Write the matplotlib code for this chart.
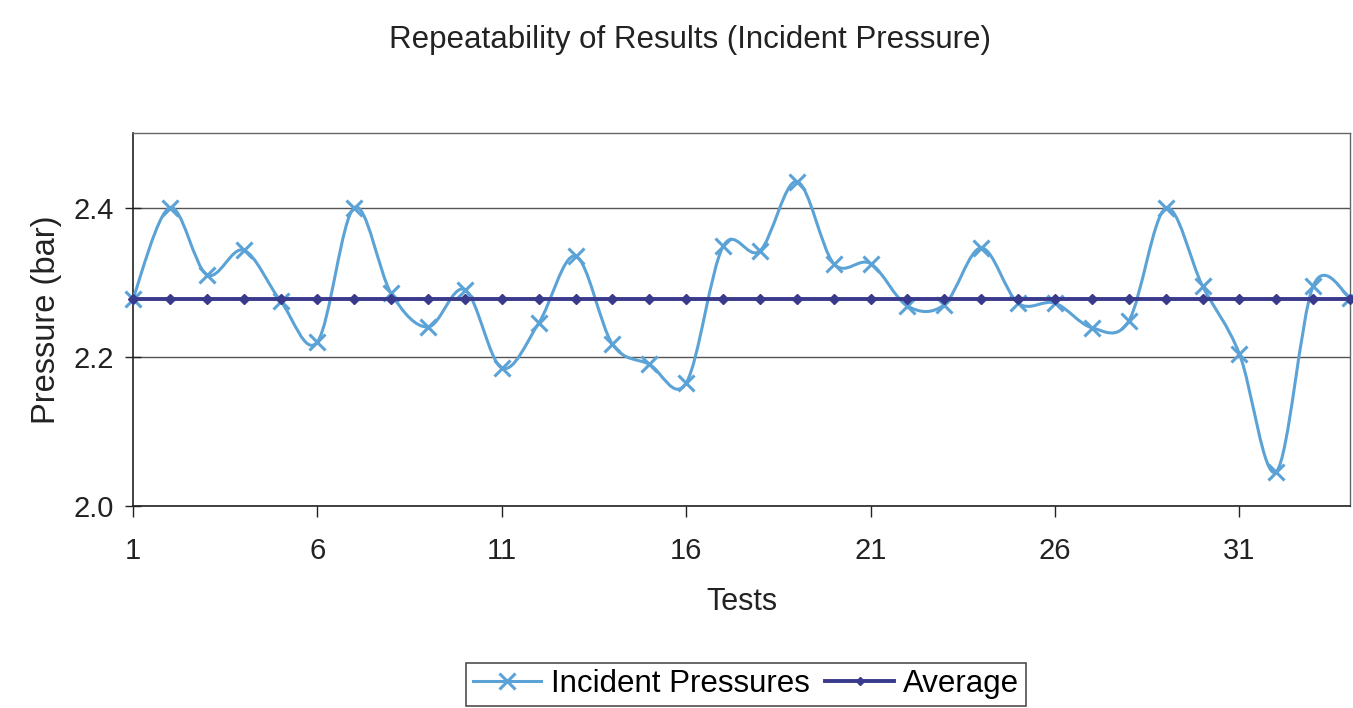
"""
plot.py - repeatability of incident pressure readings across the test series.
"""

import numpy as np
import matplotlib.pyplot as plt
from matplotlib.path import Path
from matplotlib.patches import PathPatch
from matplotlib.lines import Line2D

plt.rcParams["font.family"] = ["Liberation Sans", "DejaVu Sans"]

# ── Data ──────────────────────────────────────────────────────
tests = list(range(1, 35))
incident = [2.278, 2.400, 2.310, 2.343, 2.275, 2.220, 2.400, 2.285, 2.240, 2.290,
            2.185, 2.245, 2.335, 2.217, 2.190, 2.165, 2.348, 2.342, 2.435, 2.325,
            2.325, 2.268, 2.270, 2.346, 2.272, 2.272, 2.239, 2.248, 2.399, 2.295,
            2.204, 2.046, 2.295, 2.279]
average = [2.278] * 34
x_ticks = [1, 6, 11, 16, 21, 26, 31]
y_ticks = [2.0, 2.2, 2.4]

INCIDENT_COLOR = "#5ba3d6"
AVERAGE_COLOR = "#3a3a8c"


def smooth_path(xs, ys):
    """Cubic Bezier path through the points (spreadsheet-style smoothed line)."""
    pts = np.column_stack([xs, ys]).astype(float)
    n = len(pts)
    verts = [pts[0]]
    codes = [Path.MOVETO]
    for i in range(n - 1):
        p_prev = pts[max(i - 1, 0)]
        p0, p1 = pts[i], pts[i + 1]
        p_next = pts[min(i + 2, n - 1)]
        c1 = p0 + (p1 - p_prev) / 6.0
        c2 = p1 - (p_next - p0) / 6.0
        verts += [c1, c2, p1]
        codes += [Path.CURVE4] * 3
    return Path(verts, codes)


fig = plt.figure(figsize=(13.53, 7.08), dpi=100)
ax = fig.add_axes([0.0983, 0.2853, 0.8995, 0.5268])

# ── Series ────────────────────────────────────────────────────
ax.add_patch(PathPatch(smooth_path(tests, incident), facecolor="none",
                       edgecolor=INCIDENT_COLOR, linewidth=2.2, zorder=3))
ax.plot(tests, incident, linestyle="none", marker="x", markersize=12,
        markeredgewidth=2.2, color=INCIDENT_COLOR, zorder=4, clip_on=False)
ax.plot(tests, average, color=AVERAGE_COLOR, linewidth=2.8, marker="D",
        markersize=5.5, zorder=5, clip_on=False)

# ── Axes styling ──────────────────────────────────────────────
ax.set_xlim(1, 34)
ax.set_ylim(2.0, 2.5)
ax.set_xticks(x_ticks)
ax.set_xticklabels([str(t) for t in x_ticks])
ax.set_yticks(y_ticks)
ax.set_yticklabels([f"{v:.1f}" for v in y_ticks])
ax.tick_params(axis="x", direction="out", length=8, width=1, labelsize=21,
               pad=14, colors="#222222")
ax.tick_params(axis="y", direction="inout", length=12, width=1, labelsize=21,
               pad=8, colors="#222222")
ax.yaxis.grid(True, color="#555555", linewidth=1)
ax.set_axisbelow(True)
for side in ["left", "bottom"]:
    ax.spines[side].set_color("#222222")
    ax.spines[side].set_linewidth(1.2)
for side in ["top", "right"]:
    ax.spines[side].set_color("#666666")
    ax.spines[side].set_linewidth(1.0)

ax.set_xlabel("Tests", fontsize=22, color="#222222", labelpad=16)
ax.set_ylabel("Pressure (bar)", fontsize=23.5, color="#222222", labelpad=8)
fig.text(0.51, 0.943, "Repeatability of Results (Incident Pressure)",
         ha="center", va="center", fontsize=22.5, color="#222222")

# ── Legend ────────────────────────────────────────────────────
handles = [
    Line2D([], [], color=INCIDENT_COLOR, linewidth=2.2, marker="x",
           markersize=12, markeredgewidth=2.2),
    Line2D([], [], color=AVERAGE_COLOR, linewidth=2.8, marker="D",
           markersize=4.5),
]
leg = fig.legend(handles, ["Incident Pressures", "Average"], loc="upper center",
                 bbox_to_anchor=(746 / 1353, 1 - 663 / 708), borderaxespad=0,
                 ncol=2, fontsize=22.5, frameon=True, fancybox=False,
                 handlelength=2.2, columnspacing=0.5, handletextpad=0.3,
                 borderpad=0.2)
leg.get_frame().set_edgecolor("#222222")
leg.get_frame().set_linewidth(1.2)

fig.savefig("out.png", dpi=100)
